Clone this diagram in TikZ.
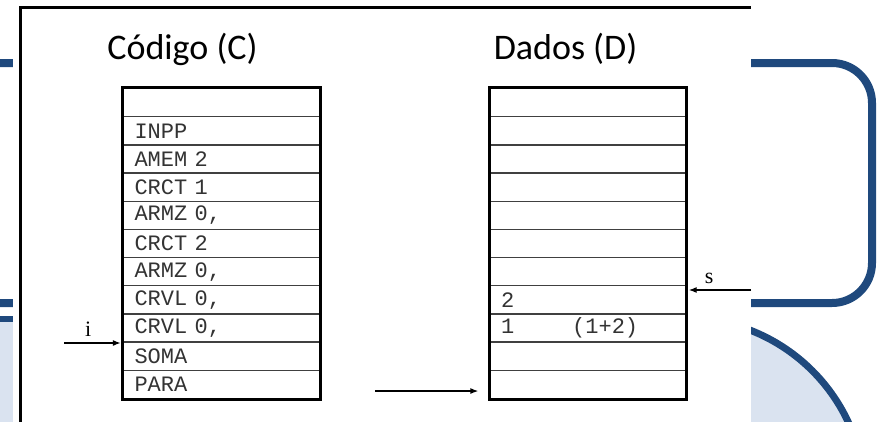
\documentclass[tikz,border=0pt]{standalone}
\usepackage{fontspec}
\newfontfamily\titlefont{Carlito}
\newfontfamily\cellfont[WordSpace={1,0,0}]{Liberation Mono}
\newfontfamily\labelfont{Liberation Serif}
\usepackage{tikz}
\usetikzlibrary{positioning, arrows.meta}
\definecolor{sblue}{HTML}{1F497D}
\definecolor{slight}{HTML}{DAE3F0}
\tikzset{
  cell/.style={rectangle,draw=black!75,line width=1.3pt,minimum width=196pt,minimum height=28.18pt,
    inner xsep=11pt,inner ysep=0pt,text width=174pt,align=left,text=black!80,
    font=\cellfont\fontsize{22}{24}\selectfont},
  frame/.style={line width=3pt},
  title/.style={anchor=base,font=\titlefont\fontsize{36}{40}\selectfont},
  ptr/.style={-{Latex[length=8pt,width=6pt]},line width=1.3pt},
  ptr label/.style={above=4pt,inner sep=2pt,font=\labelfont\fontsize{22}{24}\selectfont},
  slide line/.style={sblue,line width=8pt}
}

\begin{document}
\begin{tikzpicture}[x=1pt, y=-1pt]
  \useasboundingbox (0,0) rectangle (881,421);

  % Slide behind the picture
  \draw[slide line, rounded corners=40pt] (-80,63) rectangle (872,303);
  \draw[sblue, line width=6pt, fill=slight] (-80,319) rectangle (300,500);
  \draw[sblue, line width=7pt, fill=slight] (685,498) circle[radius=180];

  % Pasted picture
  \fill[white] (13,-10) rectangle (751,440);
  \draw[frame] (20,440) |- (751,7);

  % Titles
  \node[title] (ctitle) at (182.5,59) {Código (C)};
  \node[title] (dtitle) at (565.5,59) {Dados (D)};

  % Code memory
  \foreach \ins [count=\k] in {{}, INPP, AMEM 2, CRCT 1, {ARMZ 0,}, CRCT 2, {ARMZ 0,}, {CRVL 0,}, {CRVL 0,}, SOMA, PARA}
    \node[cell] (c\k) at (221.5,{88.5+(\k-0.5)*28.18}) {\ins};
  \draw[frame] (c1.north west) rectangle (c11.south east);

  % Data memory
  \foreach \val [count=\k] in {{}, {}, {}, {}, {}, {}, {}, 2, {1\hspace{58pt}(1+2)}, {}, {}}
    \node[cell] (d\k) at (588,{88.5+(\k-0.5)*28.18}) {\val};
  \draw[frame] (d1.north west) rectangle (d11.south east);

  % Registers
  \coordinate (ifrom) at (64,343);
  \coordinate (sfrom) at (751,290);
  \coordinate (pfrom) at (375,391);

  \draw[ptr, shorten >=2pt] (ifrom) -- (ifrom -| c10.west) node[ptr label, pos=.41] {i};
  \draw[ptr, shorten >=2pt] (sfrom) -- (sfrom -| d8.east) node[ptr label, pos=.65] {s};
  \draw[ptr, shorten >=11pt] (pfrom) -- (pfrom -| d11.west);

\end{tikzpicture}
\end{document}
